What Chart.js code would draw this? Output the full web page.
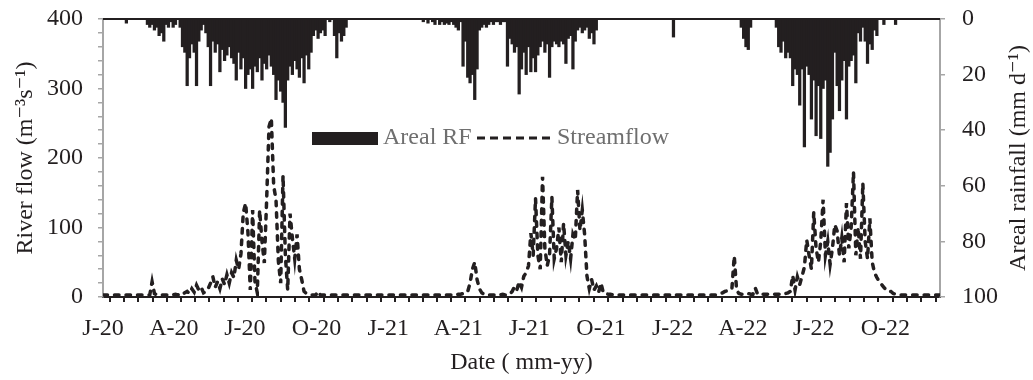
<!DOCTYPE html>
<html>
<head>
<meta charset="utf-8">
<script src="https://cdn.jsdelivr.net/npm/chart.js@4.4.1/dist/chart.umd.min.js"></script>
<style>
  html, body { margin: 0; padding: 0; background: #fff; }
  #wrap { width: 1033px; height: 380px; }
</style>
</head>
<body>
<div id="wrap"><canvas id="chart" width="1033" height="380"></canvas></div>
<script>
// one value every 3 days, starting 1 Jan 2020 (day 0)
const STEP_DAYS = 3;
const LAST_DAY = 1074;

// areal rainfall, mm/d
const rain2020 = [
  0,0,0,0,0,0,0,0,0,0, 1.5, 0,0,0,0,0,0,0,0,
  2,3,2,4,3,6,5,8,2,3,1,3,2,0,3,
  10,12,24,14,9,12,24,8, 4,2,5,
  10,24,8,12,9,19,11,15,13,10,14,
  16,22,12,18,14,25, 20,18,25,17,
  19,14,22,16,18,13,17, 20,29,22,26,30,39,
  22,17,20,15,18,21,14,23,13, 18,12,
  6,4,7,5,4,6, 0,1,0, 6,14,5,8,6,3,
  0,0,0,0,0,0,0,0,0,0,0,0,0,0,0,0,0
];
const rain2021 = [
  0,0,0,0,0,0,0,0,0,0,0,0,0,0,
  0,1,0,1.5,0,1,2,0,
  2,1,2,1.5,2,1,2,3,4,1,17,8,21,23,20,29,18,4,3,2,3,2,
  1,2,1,1,2,1,1,
  17,7,9,12,10,27, 18,12,20,10,19,14,19,13,
  10,8,12,9,21,10, 8,9,10,8,9,16, 7,6,18,8,
  4,3,5,4, 3,7,5,9,4,
  0,0,0,0,0,0,0,0,0,0,0,0,0,0,0,0,0,0,0,0,0,0,0,0,0,0,0,0,0,0,0,0
];
const rain2022 = [
  6.5,
  0,0,0,0,0,0,0,0,0,0,0,0,0,0,0,0,0,0,0,0,0,0,0,0,0,0,0,0,
  3,7,10,11,3, 0,0,0,0,0,0,0,0,0,0,
  3,10,12,8, 14,12,14,24,18, 20,31,18,46,17, 20,36,22,
  42,24,43,25, 22,53,48,36, 12,24,33,22,15,36, 17,15,13,23,
  5,8,3,8,16, 9,11,4,6, 0,0,2,0,0,0,0,2,0,
  0,0,0,0,0,0,0,0,0,0,0,0,0,0,0,0,0,0
];

// river flow, m3/s (same 3-day steps)
const flow2020 = [
  3,3,3,3,3,3,3,3,3,3,3,3,3,3,3,3,3,3,3,3,3, 22,5,
  3,3,3,3,3,3,3,3, 4,3,5,4,6,8,5,12,7,
  17,10,14,6,8,12,20,29,14,22,12,26,18,32,20,35,28,
  53,40,62,121,135,93,10,125,22,6,125,80,49,140,245,257,160,140,52,20,
  175,60,10,120,85,55,90,40,25,8,5,4,
  3,3,3,8,3,3,3,3,3,3,3,3,3,3,3,3,3,3,3,3,3,3,3,3,3,3,3,3,3,3,3,3,3
];
const flow2021 = [
  3,3,3,3,3,3,3,3,3,3,3,3,3,3,3,3,3,3,3,3,3,3,3,3,3,3,3,3,3,
  3,4,4,5,6,8,20,40,50,25,12,6,4,4,
  3,3,3,3,3,3,4,3,3,4,
  8,15,10,22,14,30,35,45,92,60,142,60,40,173,70,45,60,144,55,70,
  100,50,106,60,80,55,90,82,154,96,125,90,30,12,25,10,16,7,20,6,
  5,4,4,3,3,3,3,3,3,3,3,3,3,3,3,3,3,3,3,3,3,3,3,3,3,3,3,3,3
];
const flow2022 = [
  4,3,3,3,3,3,3,3,3,3,3,3,3,3,3,3,3,3,3,
  4,5,6,8,9,10,12,59,10,5,4,4,4,5,4,4,13,4,
  4,4,4,4,4,4,4,4,4,4,4,5,6,8,
  31,10,29,18,30,43,82,60,40,122,70,50,80,140,60,80,47,70,104,95,
  60,85,50,135,70,100,180,60,100,55,164,80,55,113,50,35,28,22,18,14,
  10,8,8,5,4,
  3,3,3,3,3,3,3,3,3,3,3,3,3,3,3,3,3,3,3
];

// quarter labels on the date axis (day number from 1 Jan 2020)
const xTickDays   = [0, 91, 182, 274, 366, 456, 547, 639, 731, 821, 912, 1004];
const xTickLabels = ['J-20','A-20','J-20','O-20','J-21','A-21','J-21','O-21','J-22','A-22','J-22','O-22'];

const FONT = '"Liberation Serif", "Times New Roman", "DejaVu Serif", serif';
const FS = 24;
const INK = '#231f20';
const GREY = '#a6a6a6';

const rain = [...rain2020, ...rain2021, ...rain2022];
const flow = [...flow2020, ...flow2021, ...flow2022];
const rainPts = rain.map((v, i) => ({ x: i * STEP_DAYS, y: v }));
const flowPts = flow.map((v, i) => ({ x: i * STEP_DAYS, y: v }));

function noEdgePad(s) {
  s.paddingTop = 0; s.paddingBottom = 0;
  s.paddingLeft = 0; s.paddingRight = 0;
}

// top black border + right axis title (reads bottom to top like the left one)
const frame = {
  id: 'frame',
  afterDatasetsDraw(chart) {
    const { ctx, chartArea: a } = chart;
    ctx.save();
    ctx.strokeStyle = INK;
    ctx.lineWidth = 2;
    ctx.beginPath();
    ctx.moveTo(a.left, a.top);
    ctx.lineTo(a.right, a.top);
    ctx.stroke();
    ctx.restore();
  },
  afterDraw(chart) {
    const { ctx, chartArea: a } = chart;
    ctx.save();
    ctx.translate(chart.width - 14, (a.top + a.bottom) / 2);
    ctx.rotate(-Math.PI / 2);
    ctx.font = FS + 'px ' + FONT;
    ctx.fillStyle = INK;
    ctx.textAlign = 'center';
    ctx.textBaseline = 'middle';
    ctx.fillText('Areal rainfall (mm d\u207B\u00B9)', 0, 0);
    ctx.restore();
  }
};

// legend sits inside the plot
const insideLegend = {
  id: 'insideLegend',
  afterDraw(chart) {
    const { ctx, chartArea: a } = chart;
    const y = a.top + 119;
    ctx.save();
    ctx.fillStyle = INK;
    ctx.fillRect(a.left + 209, y - 6, 66, 13);
    ctx.font = FS + 'px ' + FONT;
    ctx.fillStyle = '#6f6f6f';
    ctx.textBaseline = 'middle';
    ctx.fillText('Areal RF', a.left + 280, y);
    ctx.strokeStyle = INK;
    ctx.lineWidth = 3;
    ctx.setLineDash([8, 5]);
    ctx.beginPath();
    ctx.moveTo(a.left + 374, y);
    ctx.lineTo(a.left + 449, y);
    ctx.stroke();
    ctx.fillText('Streamflow', a.left + 454, y);
    ctx.restore();
  }
};

new Chart(document.getElementById('chart'), {
  type: 'bar',
  data: {
    datasets: [
      {
        type: 'line',
        label: 'Streamflow',
        data: flowPts,
        yAxisID: 'yFlow',
        borderColor: INK,
        borderWidth: 3.5,
        borderDash: [4.5, 7],
        borderCapStyle: 'round',
        pointRadius: 0,
        tension: 0,
        order: 0
      },
      {
        type: 'bar',
        label: 'Areal RF',
        data: rainPts,
        yAxisID: 'yRain',
        backgroundColor: INK,
        barThickness: 2.6,
        order: 1
      }
    ]
  },
  options: {
    responsive: false,
    animation: false,
    layout: { padding: { top: 19, left: 0, right: 0, bottom: 0 } },
    plugins: { legend: { display: false }, tooltip: { enabled: false } },
    scales: {
      x: {
        type: 'linear',
        min: 0,
        max: LAST_DAY,
        offset: false,
        afterFit(s) { s.height = 83; noEdgePad(s); },
        afterBuildTicks(s) {
          const t = [];
          xTickDays.forEach((a, q) => {
            const b = q + 1 < xTickDays.length ? xTickDays[q + 1] : a + 92;
            for (let k = 0; k < 5; k++) {
              const v = a + (b - a) * k / 5;
              if (v <= LAST_DAY) t.push({ value: v });
            }
          });
          s.ticks = t;
        },
        ticks: {
          autoSkip: false, maxRotation: 0, minRotation: 0, padding: 12,
          color: INK, font: { family: FONT, size: FS },
          callback(v) {
            const i = xTickDays.indexOf(v);
            return i >= 0 ? xTickLabels[i] : '';
          }
        },
        grid: { drawOnChartArea: false, drawTicks: true, tickLength: 5, color: INK, lineWidth: 2 },
        border: { color: INK, width: 2 },
        title: {
          display: true, text: 'Date ( mm-yy)', color: INK,
          font: { family: FONT, size: FS }, padding: { top: 0, bottom: 2.5 }
        }
      },
      yFlow: {
        position: 'left',
        min: 0,
        max: 400,
        afterFit(s) { s.width = 103; noEdgePad(s); },
        afterBuildTicks(s) {
          const t = [];
          for (let v = 0; v <= 400; v += 20) t.push({ value: v });
          s.ticks = t;
        },
        ticks: {
          autoSkip: false, padding: 15, color: INK, font: { family: FONT, size: FS },
          callback(v) { return v % 100 === 0 ? String(v) : ''; }
        },
        grid: { drawOnChartArea: false, drawTicks: true, tickLength: 5, color: GREY, lineWidth: 1.5 },
        border: { color: GREY, width: 2 },
        title: {
          display: true, text: 'River flow (m\u207B\u00B3s\u207B\u00B9)', color: INK,
          font: { family: FONT, size: FS }, padding: { top: 11, bottom: 0 }
        }
      },
      yRain: {
        position: 'right',
        min: 0,
        max: 100,
        reverse: true,
        afterFit(s) { s.width = 93; noEdgePad(s); },
        ticks: { autoSkip: false, stepSize: 20, padding: 17, color: INK, font: { family: FONT, size: FS } },
        grid: { drawOnChartArea: false, drawTicks: true, tickLength: 5, color: GREY, lineWidth: 1.5 },
        border: { color: GREY, width: 2 }
      }
    }
  },
  plugins: [frame, insideLegend]
});
</script>
</body>
</html>
